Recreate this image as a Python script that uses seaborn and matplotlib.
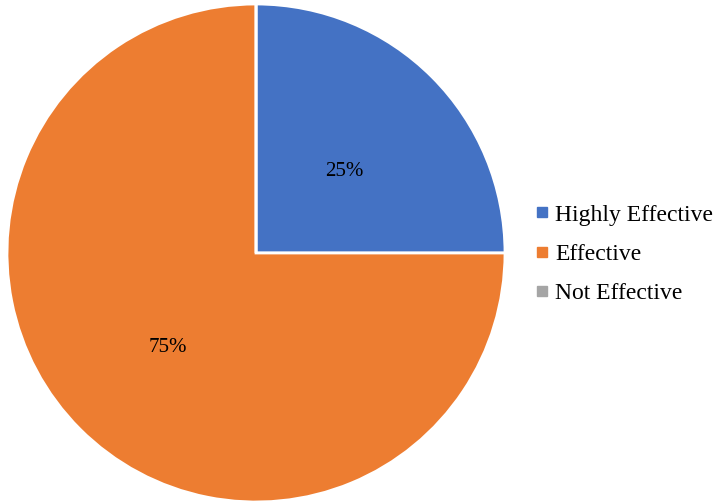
import matplotlib
matplotlib.use("Agg")
import matplotlib.pyplot as plt
import seaborn as sns
from matplotlib.lines import Line2D

categories = ["Highly Effective", "Effective", "Not Effective"]
values = [25, 75, 0]
colors = sns.color_palette(["#4472C4", "#ED7D31", "#A5A5A5"])

sns.set_theme(style="white")
plt.rcParams['font.family'] = ['Liberation Serif', 'DejaVu Serif']
plt.rcParams['text.color'] = 'black'

fig = plt.figure(figsize=(7.18, 5.04), dpi=100)
ax = fig.add_axes([7/718, 2/504, 498/718, 498/504])

def fmt(p):
    return f"{p:.0f}%" if p > 0 else ""

wedges, texts, autotexts = ax.pie(values, colors=colors, startangle=90, counterclock=False,
                                  autopct=fmt, pctdistance=0.5,
                                  wedgeprops=dict(edgecolor="white", linewidth=2),
                                  textprops=dict(fontsize=15, color="black"))
for t in autotexts:
    x, y = t.get_position()
    t.set_position((x, y - 0.025))
ax.set_xlim(-1, 1)
ax.set_ylim(-1, 1)
ax.set_aspect("equal")

handles = [Line2D([0], [0], marker="s", linestyle="", markersize=7,
                  markerfacecolor=c, markeredgecolor=c) for c in colors]
leg = fig.legend(handles, categories, loc="center left", bbox_to_anchor=(533/718, 0.496),
                 frameon=False, fontsize=17, handletextpad=0.15, labelspacing=0.75,
                 handlelength=0.8, borderpad=0, borderaxespad=0)
for t in leg.get_texts():
    t.set_color("black")

fig.savefig("out.png", dpi=100)
